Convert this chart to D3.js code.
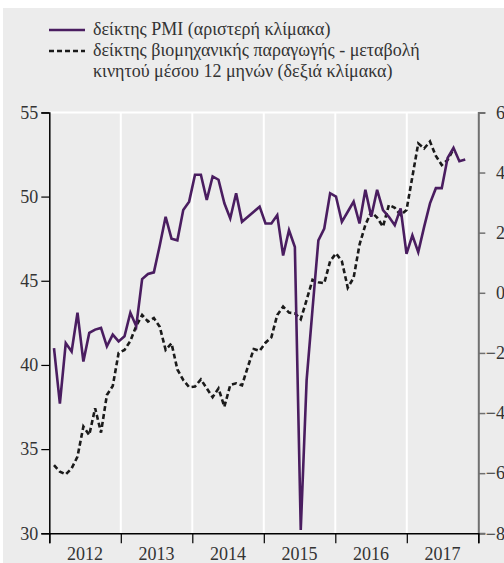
<!DOCTYPE html>
<html>
<head>
<meta charset="utf-8">
<script src="https://cdn.jsdelivr.net/npm/d3@7"></script>
<style>
    body { margin: 0; background: #fff; }
</style>
</head>
<body>
<div class="chart"></div>
<script>
// years on the x axis
const years = ['2012', '2013', '2014', '2015', '2016', '2017']

// PMI, monthly from Jan 2012 (left scale)
const pmi = [
    41.0, 37.7, 41.3, 40.8, 43.1, 40.2, 41.9, 42.1, 42.2, 41.1, 41.8, 41.4,
    41.7, 43.1, 42.3, 45.1, 45.4, 45.5, 47.1, 48.8, 47.5, 47.4, 49.2, 49.7,
    51.3, 51.3, 49.8, 51.2, 51.0, 49.6, 48.7, 50.2, 48.5, 48.8, 49.1, 49.4,
    48.4, 48.4, 48.9, 46.5, 48.0, 47.0, 30.2, 39.1, 43.3, 47.4, 48.1, 50.2,
    50.0, 48.5, 49.1, 49.7, 48.4, 50.4, 48.8, 50.4, 49.2, 48.8, 48.3, 49.3,
    46.6, 47.7, 46.7, 48.2, 49.6, 50.5, 50.5, 52.3, 52.9, 52.1, 52.2
]

// industrial production, 12-month moving average change (right scale)
const ip = [
    -5.73, -5.95, -6.04, -5.84, -5.45, -4.45, -4.73, -3.84, -4.65, -3.4, -3.1, -2.0,
    -1.9, -1.6, -1.1, -0.74, -0.96, -0.84, -1.13, -1.9, -1.68, -2.55, -2.9, -3.14,
    -3.12, -2.88, -3.18, -3.47, -3.18, -3.79, -3.07, -3.01, -3.08, -2.46, -1.87, -1.93,
    -1.66, -1.48, -0.74, -0.46, -0.66, -0.68, -0.88, -0.24, 0.43, 0.35, 0.32, 1.05,
    1.31, 1.05, 0.17, 0.5, 1.6, 2.26, 2.69, 2.5, 2.2, 2.92, 2.83, 2.59,
    2.75, 3.86, 4.97, 4.8, 5.03, 4.55, 4.25, 4.42, 4.78
]

const leftTicks = [30, 35, 40, 45, 50, 55]
const rightTicks = [-8, -6, -4, -2, 0, 2, 4, 6]

const legendLabels = [
    ['δείκτης PMI (αριστερή κλίμακα)'],
    ['δείκτης βιομηχανικής παραγωγής - μεταβολή', 'κινητού μέσου 12 μηνών (δεξιά κλίμακα)']
]

const w = 504, h = 563
const purple = '#4a1d60'
const serif = '"Liberation Serif", "Times New Roman", "DejaVu Serif", serif'
const fontSize = '18px'

const svg = d3.select('.chart')
    .append('svg')
    .attr('width', w)
    .attr('height', h)
    .style('display', 'block')

// grey panel
svg.append('rect')
    .attr('x', 3).attr('y', 8)
    .attr('width', w - 3).attr('height', h - 8)
    .attr('fill', '#ececec')

const plot = { left: 49.3, right: 478.3, top: 112.4, bottom: 533.3 }

// scales
const xYear = d3.scaleLinear()
    .domain([2012, 2018])
    .range([plot.left, plot.right])

const xMonth = d3.scaleLinear()
    .domain([0, 70])
    .range([54, 465.25])

const yLeft = d3.scaleLinear()
    .domain([30, 55])
    .range([plot.bottom, plot.top])

const yRight = d3.scaleLinear()
    .domain([-8, 6])
    .range([plot.bottom, plot.top])

// white grid: top line + year separators
svg.append('line')
    .attr('x1', plot.left).attr('x2', plot.right)
    .attr('y1', yLeft(55)).attr('y2', yLeft(55))
    .attr('stroke', '#fff').attr('stroke-width', 2)

svg.selectAll('line.vgrid')
    .data(d3.range(2013, 2018))
    .enter()
    .append('line')
    .attr('class', 'vgrid')
    .attr('x1', d => xYear(d)).attr('x2', d => xYear(d))
    .attr('y1', plot.top).attr('y2', plot.bottom)
    .attr('stroke', '#fff').attr('stroke-width', 2)

// left axis
const gLeft = svg.append('g')
    .attr('transform', `translate(${plot.left},0)`)
    .call(d3.axisLeft(yLeft).tickValues(leftTicks).tickSize(8).tickPadding(3))
    .attr('font-family', serif)
    .attr('font-size', fontSize)
gLeft.select('.domain').attr('stroke', '#000').attr('stroke-width', 1.5)
gLeft.selectAll('.tick line').attr('stroke', '#000').attr('stroke-width', 1.2)
gLeft.selectAll('.tick text').attr('fill', '#333')

// right axis (grey), labels pushed to the page edge
const gRight = svg.append('g')
    .attr('transform', `translate(${plot.right},0)`)
    .call(d3.axisRight(yRight).tickValues(rightTicks).tickSize(7).tickPadding(3))
    .attr('font-family', serif)
    .attr('font-size', fontSize)
gRight.select('.domain').attr('stroke', '#707070').attr('stroke-width', 2)
gRight.selectAll('.tick line').attr('stroke', '#707070').attr('stroke-width', 1.5)
gRight.selectAll('.tick text')
    .attr('fill', '#333')
    .attr('text-anchor', 'end')
    .attr('x', w - plot.right + 1)

// bottom axis: year boundaries as ticks, labels centred in the year
const gBottom = svg.append('g')
    .attr('transform', `translate(0,${plot.bottom})`)
    .call(d3.axisBottom(xYear).tickValues(d3.range(2012, 2019)).tickSize(10).tickFormat(''))
gBottom.select('.domain').attr('stroke', '#000').attr('stroke-width', 1.5)
gBottom.selectAll('.tick line').attr('stroke', '#000').attr('stroke-width', 1.2)

svg.selectAll('text.year')
    .data(years)
    .enter()
    .append('text')
    .attr('class', 'year')
    .attr('x', d => xYear(+d + 0.5))
    .attr('y', 560)
    .attr('text-anchor', 'middle')
    .attr('font-family', serif)
    .attr('font-size', fontSize)
    .attr('fill', '#333')
    .text(d => d)

// lines
const pmiLine = d3.line()
    .x((d, i) => xMonth(i))
    .y(d => yLeft(d))

const ipLine = d3.line()
    .x((d, i) => xMonth(i))
    .y(d => yRight(d))

svg.append('path')
    .datum(ip)
    .attr('d', ipLine)
    .attr('fill', 'none')
    .attr('stroke', '#1a1a1a')
    .attr('stroke-width', 2.6)
    .attr('stroke-dasharray', '5,3')

svg.append('path')
    .datum(pmi)
    .attr('d', pmiLine)
    .attr('fill', 'none')
    .attr('stroke', purple)
    .attr('stroke-width', 2.6)

// legend
const legend = svg.append('g')
    .attr('font-family', serif)
    .attr('font-size', fontSize)
legend.append('line')
    .attr('x1', 49).attr('x2', 85).attr('y1', 30).attr('y2', 30)
    .attr('stroke', purple).attr('stroke-width', 2.6)
legend.append('line')
    .attr('x1', 49).attr('x2', 85).attr('y1', 51).attr('y2', 51)
    .attr('stroke', '#1a1a1a').attr('stroke-width', 2.6)
    .attr('stroke-dasharray', '5,3')

legendLabels.flat().forEach((t, i) => {
    legend.append('text')
        .attr('x', 93)
        .attr('y', 35 + i * 21)
        .attr('fill', '#333')
        .text(t)
})
</script>
</body>
</html>
